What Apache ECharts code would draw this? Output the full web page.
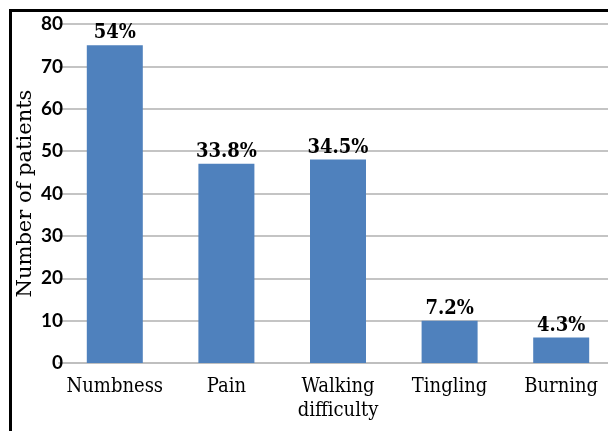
<!DOCTYPE html>
<html>
<head>
<meta charset="utf-8">
<script src="https://cdn.jsdelivr.net/npm/echarts@6/dist/echarts.min.js"></script>
<style>html,body{margin:0;padding:0;background:#fff}#c{width:608px;height:431px}</style>
</head>
<body>
<div id="c"></div>
<script>
const categories = ["Numbness", "Pain", "Walking\ndifficulty", "Tingling", "Burning"];
const patients = [75, 47, 48, 10, 6];
const percentLabels = ["54%", "33.8%", "34.5%", "7.2%", "4.3%"];
const yTicks = { min: 0, max: 80, interval: 10 };

const serif = '"DejaVu Serif Condensed", "DejaVu Serif", serif';
const chart = echarts.init(document.getElementById('c'), null, { renderer: 'canvas' });
chart.setOption({
  animation: false,
  backgroundColor: '#fff',
  grid: { left: 59, width: 558, top: 24, bottom: 68, containLabel: false, outerBoundsMode: 'none' },
  xAxis: {
    type: 'category',
    data: categories,
    axisLine: { show: true, lineStyle: { color: '#bfbfbf', width: 2 } },
    axisTick: { show: false },
    axisLabel: {
      color: '#000', fontFamily: serif, fontSize: 20, margin: 12,
      lineHeight: 24, interval: 0
    }
  },
  yAxis: {
    type: 'value',
    min: yTicks.min, max: yTicks.max, interval: yTicks.interval,
    name: 'Number of patients',
    nameLocation: 'middle',
    nameGap: 23,
    nameMoveOverlap: false,
    nameTextStyle: { color: '#000', fontFamily: '"DejaVu Serif", serif', fontSize: 21 },
    axisLine: { show: false },
    axisTick: { show: false },
    axisLabel: { color: '#000', fontFamily: 'Lato', fontWeight: 'bold', fontSize: 19, margin: -4 },
    splitLine: { lineStyle: { color: '#c4c4c4', width: 2 } }
  },
  series: [{
    type: 'bar',
    data: patients,
    barWidth: 56,
    itemStyle: { color: '#4f81bd' },
    label: {
      show: true, position: 'top', distance: 2,
      formatter: p => percentLabels[p.dataIndex],
      color: '#000', fontFamily: serif, fontWeight: 'bold', fontSize: 20
    }
  }],
  graphic: [
    { type: 'line', shape: { x1: 9, y1: 10.5, x2: 608, y2: 10.5 }, style: { stroke: '#000', lineWidth: 3 } },
    { type: 'line', shape: { x1: 10.5, y1: 9, x2: 10.5, y2: 431 }, style: { stroke: '#000', lineWidth: 3 } }
  ]
});
</script>
</body>
</html>
